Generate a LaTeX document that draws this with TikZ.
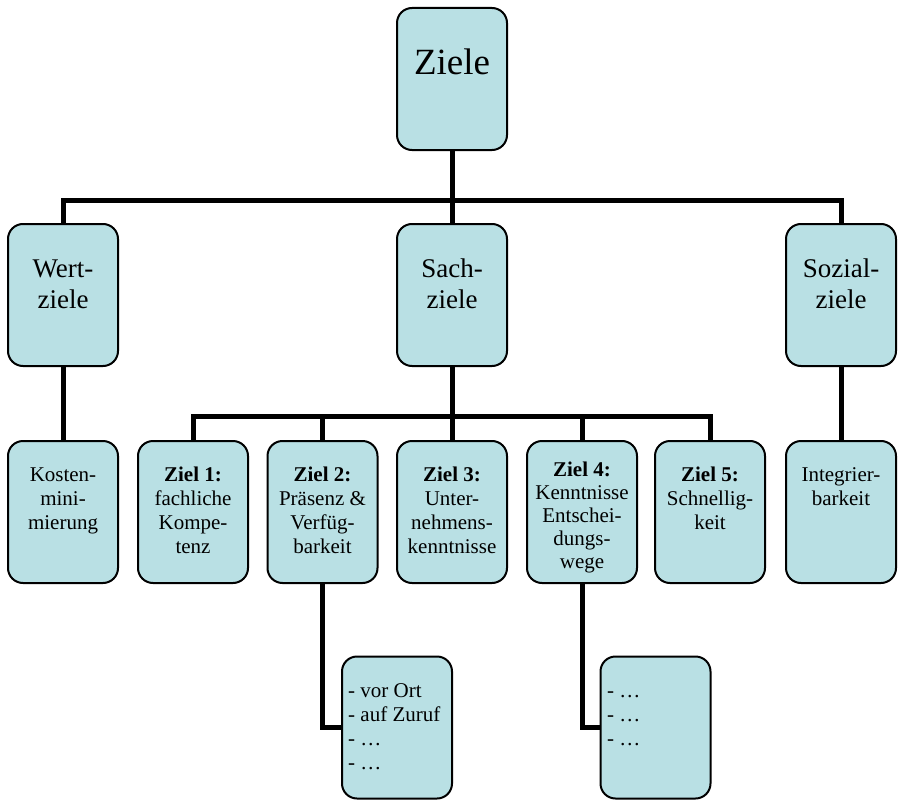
\documentclass[tikz,border=0pt]{standalone}
\usepackage{fontspec}
\setmainfont{Liberation Serif}
\usetikzlibrary{backgrounds}
\definecolor{boxfill}{RGB}{185,224,228}
\begin{document}
\begin{tikzpicture}[x=1pt,y=-1pt,
  box/.style={draw=black, line width=2pt, fill=boxfill, rounded corners=15pt,
    minimum width=110pt, minimum height=142pt, inner sep=0pt, outer sep=0pt},
  link/.style={draw=black, line width=5pt},
  toptext/.style={font=\fontsize{37}{44}\selectfont, anchor=north, inner sep=0pt, align=center},
  midtext/.style={font=\fontsize{27}{31}\selectfont, anchor=north, inner sep=0pt, align=center},
  lowtext/.style={font=\fontsize{21}{24}\selectfont, anchor=north, inner sep=0pt, align=center},
  listtext/.style={font=\fontsize{21}{24}\selectfont, anchor=north west, inner sep=0pt, align=left}]
\useasboundingbox (0,0) rectangle (900,800);

% boxes
\node[box] (ziele)  at (452,79) {};
\node[box] (wert)   at (63,295) {};
\node[box] (sach)   at (452,295) {};
\node[box] (sozial) at (841,295) {};
\node[box] (kosten) at (63,512) {};
\node[box] (z1)     at (193,512) {};
\node[box] (z2)     at (322.5,512) {};
\node[box] (z3)     at (452,512) {};
\node[box] (z4)     at (582,512) {};
\node[box] (z5)     at (710,512) {};
\node[box] (integ)  at (841,512) {};
\node[box] (b1)     at (397,727.5) {};
\node[box] (b2)     at (655.5,727.5) {};

% labels
\node[toptext] (t-ziele) at (ziele.north |- 0,43.2) {\strut Ziele};
\node[midtext] (t-wert)   at (wert.north |- 0,255.3)   {\strut Wert-\\ziele};
\node[midtext] (t-sach)   at (sach.north |- 0,255.3)   {\strut Sach-\\ziele};
\node[midtext] (t-sozial) at (sozial.north |- 0,255.3) {\strut Sozial-\\ziele};
\node[lowtext] (t-kosten) at (kosten.north |- 0,464.2) {\strut Kosten-\\mini-\\mierung};
\node[lowtext] (t-z1) at (z1.north |- 0,464.2) {\strut\textbf{Ziel 1:}\\fachliche\\Kompe-\\tenz};
\node[lowtext] (t-z2) at (z2.north |- 0,464.2) {\strut\textbf{Ziel 2:}\\Präsenz \&\\Verfüg-\\barkeit};
\node[lowtext] (t-z3) at (z3.north |- 0,464.2) {\strut\textbf{Ziel 3:}\\Unter-\\nehmens-\\kenntnisse};
\node[lowtext, font=\fontsize{21}{23}\selectfont] (t-z4) at (z4.north |- 0,459.9)
  {\strut\textbf{Ziel 4:}\\Kenntnisse\\Entschei-\\dungs-\\wege};
\node[lowtext] (t-z5) at (z5.north |- 0,464.2) {\strut\textbf{Ziel 5:}\\Schnellig-\\keit};
\node[lowtext] (t-integ) at (integ.north |- 0,464.2) {\strut Integrier-\\barkeit};
\node[listtext] (t-b1) at (348,680.2) {\strut - vor Ort\\- auf Zuruf\\- …\\- …};
\node[listtext] (t-b2) at (607,680.2) {\strut - …\\- …\\- …};

% connectors behind the boxes
\begin{scope}[on background layer]
\coordinate (bus1) at (0,200);
\coordinate (bus2) at (0,416);
\draw[link] (ziele.south) -- (ziele.south |- bus1);
\draw[link] (wert.north) |- (sozial.north |- bus1) -- (sozial.north);
\draw[link] (sach.north) -- (sach.north |- bus1);
\draw[link] (wert.south) -- (kosten.north);
\draw[link] (sozial.south) -- (integ.north);
\draw[link] (sach.south) -- (z3.north);
\draw[link] (z1.north) |- (z5.north |- bus2) -- (z5.north);
\draw[link] (z2.north) -- (z2.north |- bus2);
\draw[link] (z4.north) -- (z4.north |- bus2);
\draw[link] (z2.south) |- (b1.west);
\draw[link] (z4.south) |- (b2.west);
\end{scope}
\end{tikzpicture}
\end{document}
